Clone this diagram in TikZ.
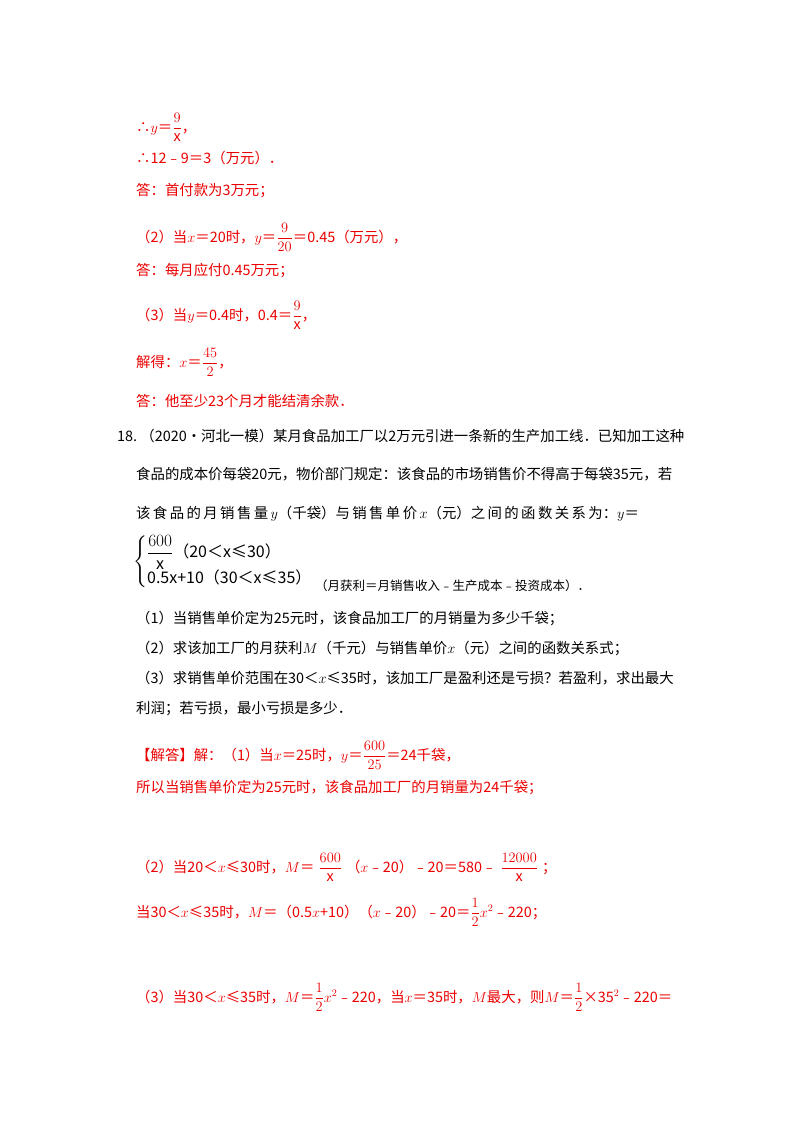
\documentclass[tikz,border=0pt]{standalone}
\usepackage{amsmath}
\usepackage{fontspec}
\setmainfont{Noto Sans CJK SC}
\definecolor{ans}{RGB}{235,0,0}
\tikzset{ln/.style={anchor=base west,inner sep=0pt,font=\fontsize{14.4}{17}\selectfont},
 red/.style={ln,text=ans}}
\begin{document}
\begin{tikzpicture}[x=1pt,y=-1pt]
\useasboundingbox (0,0) rectangle (800,1132);
\node[red] (l1) at (136,132) {∴$y$＝$\dfrac{9}{\mathrm{x}}$，};
\node[red] (l2) at (136,163) {∴12﹣9＝3（万元）．};
\node[red] (l3) at (136,195) {答：首付款为3万元；};
\node[red] (l4) at (136,242) {（2）当$x$＝20时，$y$＝$\dfrac{9}{20}$＝0.45（万元），};
\node[red] (l5) at (136,275) {答：每月应付0.45万元；};
\node[red] (l6) at (136,320) {（3）当$y$＝0.4时，0.4＝$\dfrac{9}{\mathrm{x}}$，};
\node[red] (l7) at (136,367) {解得：$x$＝$\dfrac{45}{2}$，};
\node[red] (l8) at (136,406) {答：他至少23个月才能结清余款．};
\node[ln] (p1) at (117,441) {18.\ （2020•河北一模）某月食品加工厂以2万元引进一条新的生产加工线．已知加工这种};
\node[ln] (p2) at (136,479) {食品的成本价每袋20元，物价部门规定：该食品的市场销售价不得高于每袋35元，若};
\node[ln] (p3) at (136,518) {该\,食\,品\,的\,月\,销\,售\,量\,$y$（千袋）与\,销\,售\,单\,价\,$x$（元）之\,间\,的\,函\,数\,关\,系\,为：$y$＝};
\node[ln,anchor=west,font=\fontsize{16}{19}\selectfont] (sys) at (133,562) {$\left\{\begin{array}{@{}l@{}}\dfrac{600}{\mathrm{x}}\text{（20＜x≤30）}\\[6pt] \text{0.5x+10（30＜x≤35）}\end{array}\right.$};
\node[ln,font=\fontsize{12.5}{14}\selectfont] (p4) at ([xshift=2pt]sys.east|-0,590) {（月获利＝月销售收入﹣生产成本﹣投资成本）．};
\node[ln] (q1) at (136,623) {（1）当销售单价定为25元时，该食品加工厂的月销量为多少千袋；};
\node[ln] (q2) at (136,653) {（2）求该加工厂的月获利$M$（千元）与销售单价$x$（元）之间的函数关系式；};
\node[ln] (q3) at (136,683) {（3）求销售单价范围在30＜$x$≤35时，该加工厂是盈利还是亏损？若盈利，求出最大};
\node[ln] (q4) at (136,713) {利润；若亏损，最小亏损是多少．};
\node[red] (a1) at (136,760) {【解答】解：（1）当$x$＝25时，$y$＝$\dfrac{600}{25}$＝24千袋，};
\node[red] (a2) at (136,792) {所以当销售单价定为25元时，该食品加工厂的月销量为24千袋；};
\node[red] (a3) at (136,872) {（2）当20＜$x$≤30时，$M$＝\;$\dfrac{600}{\mathrm{x}}$\;（$x$﹣20）﹣20＝580﹣\;$\dfrac{12000}{\mathrm{x}}$\;；};
\node[red] (a4) at (136,917) {当30＜$x$≤35时，$M$＝（0.5$x$+10）（$x$﹣20）﹣20＝$\dfrac{1}{2}x^2$﹣220；};
\node[red] (a5) at (136,1002) {（3）当30＜$x$≤35时，$M$＝$\dfrac{1}{2}x^2$﹣220，当$x$＝35时，$M$最大，则$M$＝$\dfrac{1}{2}$×35$^2$﹣220＝};
\end{tikzpicture}
\end{document}
